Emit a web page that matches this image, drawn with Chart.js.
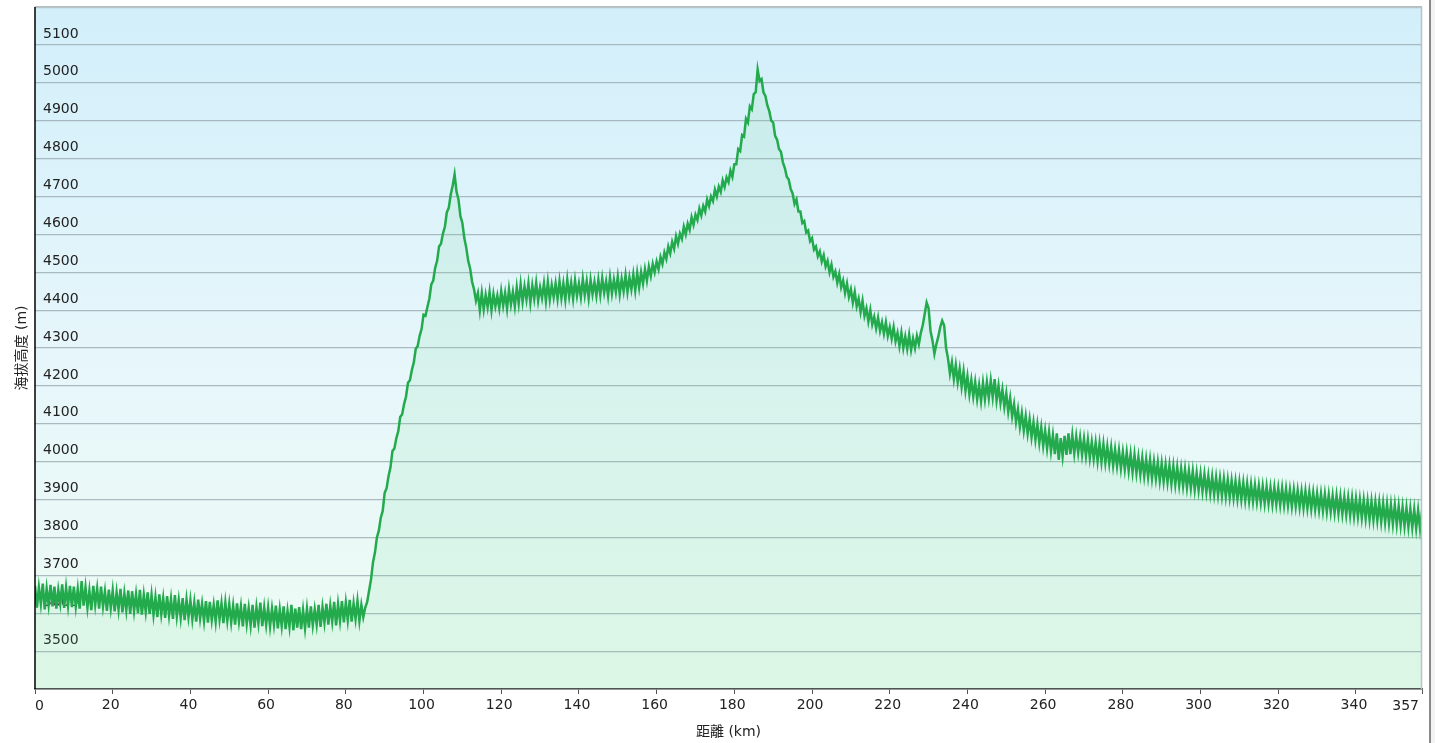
<!DOCTYPE html>
<html>
<head>
<meta charset="utf-8">
<script src="https://cdn.jsdelivr.net/npm/chart.js@4.4.1/dist/chart.umd.min.js"></script>
<style>
  html, body { margin: 0; padding: 0; background: #fff; }
  #wrap { position: relative; width: 1435px; height: 743px; }
  #frame { position: absolute; left: 1429px; top: 0; width: 2px; height: 743px; background: #8a8a8a; }
  #edge { position: absolute; left: 1431px; top: 0; width: 4px; height: 743px; background: #f3f3f3; }
</style>
</head>
<body>
<div id="wrap">
  <canvas id="elevChart" width="1435" height="743"></canvas>
  <div id="frame"></div>
  <div id="edge"></div>
</div>
<script>
// elevation samples (m): upper readings at whole km 0..357,
// lower readings at the half km 0.5..356.5 in between
const elevHigh = [
    3672, 3668, 3678, 3665, 3675, 3670, 3662, 3676, 3668, 3672,
    3670, 3664, 3685, 3668, 3660, 3672, 3665, 3670, 3658, 3662,
    3660, 3655, 3664, 3652, 3660, 3658, 3650, 3662, 3648, 3655,
    3648, 3642, 3650, 3640, 3645, 3638, 3648, 3635, 3640, 3636,
    3634, 3628, 3636, 3625, 3632, 3630, 3622, 3634, 3626, 3628,
    3624, 3620, 3626, 3618, 3625, 3614, 3622, 3616, 3628, 3615,
    3615, 3612, 3620, 3610, 3618, 3606, 3622, 3612, 3616, 3608,
    3612, 3618, 3610, 3622, 3616, 3625, 3620, 3630, 3624, 3632,
    3628, 3635, 3626, 3632, 3622,
    3615, 3660, 3735, 3800, 3852, 3918, 3962, 4028, 4062, 4118,
    4152, 4208, 4242, 4298, 4332, 4388, 4408, 4468, 4512, 4568,
    4602, 4658, 4705, 4758, 4692, 4630, 4565, 4510, 4455, 4445,
    4445, 4440, 4448, 4442, 4438, 4450, 4445, 4455, 4448, 4460,
    4468, 4462, 4470, 4465, 4472, 4460, 4470, 4474, 4466, 4470,
    4476, 4470, 4480, 4472, 4478, 4470, 4482, 4476, 4480, 4474,
    4480, 4484, 4476, 4486, 4480, 4488, 4482, 4492, 4486, 4494,
    4498, 4500, 4508, 4515, 4522,
    4528, 4540, 4552, 4568, 4580, 4595, 4602, 4620, 4628, 4645,
    4652, 4668, 4675, 4692, 4700, 4718, 4726, 4742, 4750, 4768,
    4785, 4825, 4862, 4905, 4938, 4970, 5035,
    5010, 4965, 4925, 4895, 4850, 4818, 4775, 4745, 4708, 4692,
    4660, 4635, 4610, 4590, 4568, 4555, 4545, 4530, 4520, 4502,
    4495, 4478, 4470, 4455, 4448, 4430, 4425, 4405, 4400, 4382,
    4380, 4368, 4368, 4355, 4355, 4340, 4340, 4330, 4335, 4325,
    4332,
    4340, 4390, 4405, 4320, 4310, 4355, 4360,
    4272, 4262, 4255, 4245, 4238, 4225, 4215, 4210, 4202, 4208,
    4210, 4214, 4218, 4200, 4190, 4180, 4168, 4152, 4138, 4128,
    4120, 4112, 4104, 4098, 4090, 4082, 4078, 4070, 4075, 4062,
    4068, 4075, 4070, 4066, 4064, 4060, 4058, 4052, 4050, 4048,
    4046, 4040, 4038, 4032, 4030, 4025, 4024, 4020, 4018, 4012,
    4010, 4006, 4005, 4000, 3998, 3995, 3992, 3990, 3988, 3985,
    3982, 3980, 3976, 3975, 3970, 3968, 3966, 3962, 3960, 3958,
    3956, 3955, 3952, 3950, 3948, 3946, 3944, 3942, 3940, 3938,
    3936, 3935, 3934, 3932, 3932, 3930, 3930, 3928, 3926, 3926,
    3924, 3922, 3922, 3920, 3918, 3916, 3915, 3914, 3912, 3910,
    3910, 3908, 3906, 3905, 3904, 3902, 3900, 3898, 3896, 3895,
    3893, 3892, 3890, 3888, 3886, 3885, 3882, 3880, 3878, 3876,
    3874, 3872, 3870
];

const elevLow = [
    3615, 3625, 3610, 3622, 3618, 3612, 3626, 3614, 3620, 3616,
    3618, 3612, 3620, 3615, 3608, 3622, 3612, 3618, 3606, 3614,
    3605, 3610, 3602, 3608, 3598, 3606, 3600, 3596, 3604, 3598,
    3596, 3590, 3598, 3588, 3594, 3585, 3592, 3588, 3582, 3590,
    3584, 3578, 3586, 3580, 3575, 3582, 3578, 3584, 3574, 3580,
    3576, 3570, 3578, 3565, 3572, 3568, 3562, 3574, 3566, 3570,
    3565, 3570, 3560, 3566, 3558, 3564, 3555, 3562, 3558, 3560,
    3562, 3568, 3570, 3564, 3575, 3570, 3578, 3568, 3580, 3576,
    3582, 3578, 3585, 3580, 3590,
    3630, 3690, 3760, 3818, 3870, 3930, 3985, 4035, 4080, 4125,
    4172, 4215, 4262, 4305, 4350, 4385, 4430, 4478, 4530, 4575,
    4620, 4670, 4728, 4712, 4648, 4590, 4530, 4475, 4425, 4400,
    4402, 4408, 4400, 4410, 4405, 4412, 4404, 4415, 4410, 4418,
    4422, 4428, 4420, 4430, 4425, 4432, 4424, 4428, 4434, 4430,
    4432, 4428, 4436, 4430, 4438, 4434, 4440, 4432, 4442, 4438,
    4440, 4446, 4438, 4444, 4448, 4442, 4450, 4448, 4455, 4452,
    4460, 4470, 4478, 4490, 4500,
    4508, 4522, 4535, 4550, 4562, 4575, 4588, 4600, 4612, 4625,
    4638, 4650, 4660, 4675, 4688, 4700, 4712, 4725, 4738, 4752,
    4785, 4820, 4858, 4895, 4930, 4975, 5005,
    4975, 4940, 4900, 4860, 4825, 4790, 4752, 4720, 4680, 4660,
    4630, 4605, 4582, 4560, 4542, 4528, 4515, 4500, 4488, 4472,
    4460, 4445, 4435, 4420, 4410, 4395, 4385, 4370, 4362, 4352,
    4345, 4338, 4332, 4325, 4318, 4305, 4300, 4298, 4295, 4300,
    4310,
    4360, 4420, 4345, 4285, 4330, 4372, 4300,
    4232, 4218, 4210, 4198, 4188, 4178, 4172, 4165, 4160, 4165,
    4168, 4170, 4162, 4155, 4145, 4132, 4120, 4105, 4092, 4082,
    4074, 4065, 4058, 4050, 4042, 4035, 4028, 4020, 4005, 4015,
    4018, 4020, 4022, 4024, 4018, 4015, 4010, 4008, 4002, 4000,
    3998, 3995, 3990, 3988, 3982, 3980, 3976, 3972, 3970, 3966,
    3962, 3960, 3956, 3955, 3950, 3948, 3946, 3942, 3940, 3938,
    3936, 3932, 3930, 3926, 3925, 3922, 3920, 3916, 3914, 3912,
    3910, 3908, 3906, 3905, 3902, 3900, 3898, 3896, 3895, 3894,
    3892, 3890, 3890, 3888, 3888, 3886, 3885, 3884, 3882, 3882,
    3880, 3878, 3877, 3875, 3874, 3872, 3870, 3868, 3867, 3865,
    3864, 3862, 3860, 3858, 3856, 3855, 3852, 3850, 3848, 3846,
    3845, 3842, 3840, 3838, 3836, 3834, 3832, 3830, 3828, 3826,
    3824, 3822
];

// axis ticks
const xTicks = [0, 20, 40, 60, 80, 100, 120, 140, 160, 180, 200, 220, 240, 260, 280, 300, 320, 340, 357];
const yMin = 3400;
const yMax = 5200;
const yStep = 100;

const xTitle = '距離 (km)';
const yTitle = '海拔高度 (m)';

const fontFamily = '"DejaVu Sans", Verdana, "Noto Sans CJK TC", sans-serif';
const xMin = xTicks[0];
const xMax = xTicks[xTicks.length - 1];

// merge the two readings in distance order
const points = [];
elevHigh.forEach(function(v, i) {
    points.push({ x: i, y: v });
    if (i < elevLow.length) points.push({ x: i + 0.5, y: elevLow[i] });
});

// plot background gradient, frame round the plot area,
// and the two end labels of the distance axis kept inside the plot width
const plotBackground = {
    id: 'plotBackground',
    beforeDraw: function(chart) {
        const a = chart.chartArea;
        const ctx = chart.ctx;
        const g = ctx.createLinearGradient(0, a.top, 0, a.bottom);
        g.addColorStop(0, 'rgb(210, 239, 250)');
        g.addColorStop(0.5, 'rgb(230, 246, 251)');
        g.addColorStop(1, 'rgb(238, 252, 243)');
        ctx.save();
        ctx.fillStyle = g;
        ctx.fillRect(a.left, a.top, a.right - a.left, a.bottom - a.top);
        ctx.restore();
    },
    afterDatasetsDraw: function(chart) {
        const a = chart.chartArea;
        const ctx = chart.ctx;
        ctx.save();
        ctx.strokeStyle = '#b9c3c7';
        ctx.lineWidth = 1.5;
        ctx.beginPath();
        ctx.moveTo(a.left, a.top + 0.5);
        ctx.lineTo(a.right - 0.5, a.top + 0.5);
        ctx.lineTo(a.right - 0.5, a.bottom);
        ctx.stroke();
        ctx.strokeStyle = '#000';
        ctx.lineWidth = 1.5;
        ctx.beginPath();
        ctx.moveTo(a.left, a.top);
        ctx.lineTo(a.left, a.bottom);
        ctx.stroke();
        ctx.restore();
    },
    afterDraw: function(chart) {
        const x = chart.scales.x;
        const ctx = chart.ctx;
        const y = chart.chartArea.bottom + 17;
        ctx.save();
        ctx.fillStyle = '#222';
        ctx.font = '14px ' + fontFamily;
        ctx.textBaseline = 'middle';
        ctx.textAlign = 'left';
        ctx.fillText(String(xMin), x.getPixelForValue(xMin), y);
        ctx.textAlign = 'right';
        ctx.fillText(String(xMax), x.getPixelForValue(xMax) - 3, y);
        ctx.restore();
    }
};

new Chart(document.getElementById('elevChart'), {
    type: 'line',
    data: {
        datasets: [{
            label: yTitle,
            data: points,
            borderColor: 'rgb(34, 170, 76)',
            backgroundColor: 'rgba(110, 220, 150, 0.13)',
            borderWidth: 2.5,
            pointRadius: 0,
            tension: 0,
            fill: 'start'
        }]
    },
    options: {
        responsive: false,
        animation: false,
        layout: {
            padding: { top: 7, right: 13, bottom: 2, left: 0 }
        },
        plugins: {
            legend: { display: false },
            tooltip: { enabled: false }
        },
        scales: {
            x: {
                type: 'linear',
                min: xMin,
                max: xMax,
                afterFit: function(scale) {
                    scale.height = 52;
                    scale.paddingLeft = 0;
                    scale.paddingRight = 0;
                },
                afterBuildTicks: function(scale) {
                    scale.ticks = xTicks.map(function(v) { return { value: v }; });
                },
                grid: {
                    drawOnChartArea: false,
                    drawTicks: true,
                    tickLength: 5,
                    color: '#555'
                },
                border: { color: '#444', width: 1.5 },
                ticks: {
                    autoSkip: false,
                    maxRotation: 0,
                    padding: 3,
                    labelOffset: -2,
                    color: '#222',
                    font: { family: fontFamily, size: 14 },
                    callback: function(v) {
                        if (v === xMin || v === xMax) return '';
                        return String(v);
                    }
                },
                title: {
                    display: true,
                    text: xTitle,
                    color: '#222',
                    padding: { top: 0, bottom: 0 },
                    font: { family: fontFamily, size: 14 }
                }
            },
            y: {
                min: yMin,
                max: yMax,
                afterFit: function(scale) {
                    scale.width = 35;
                    scale.paddingTop = 0;
                    scale.paddingBottom = 0;
                },
                grid: {
                    drawTicks: false,
                    color: 'rgba(150, 165, 172, 0.75)',
                    lineWidth: 1.2
                },
                border: { display: false },
                ticks: {
                    stepSize: yStep,
                    mirror: true,
                    padding: 8,
                    labelOffset: -11,
                    color: '#222',
                    font: { family: fontFamily, size: 14 },
                    callback: function(v) {
                        if (v === yMin || v === yMax) return '';
                        return String(v);
                    }
                },
                title: {
                    display: true,
                    text: yTitle,
                    color: '#222',
                    padding: { top: 14, bottom: 0 },
                    font: { family: fontFamily, size: 14 }
                }
            }
        }
    },
    plugins: [plotBackground]
});
</script>
</body>
</html>
